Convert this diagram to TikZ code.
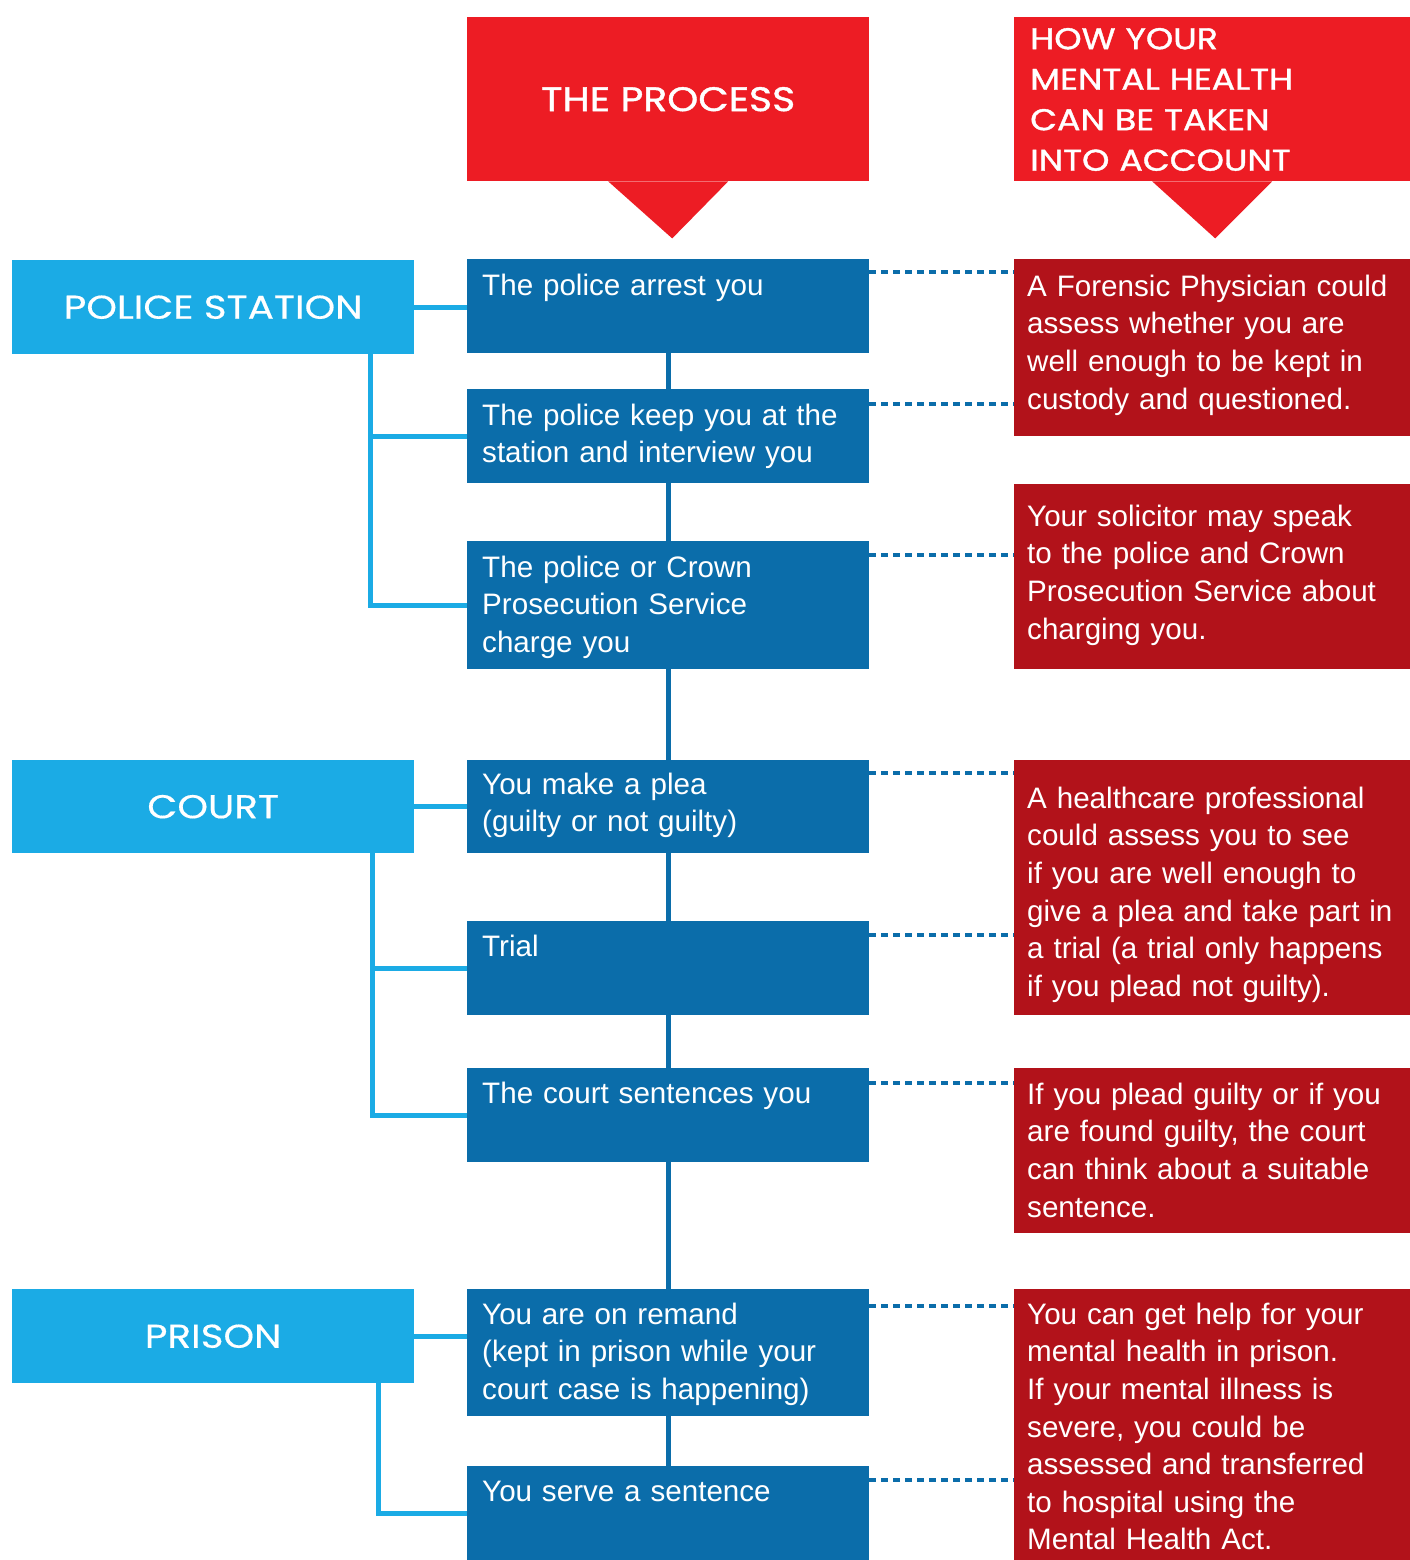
\documentclass[tikz,border=0pt]{standalone}
\usepackage{fontspec}
\setmainfont{Liberation Sans}
\newfontfamily\headfont{Poppins}[FakeStretch=1.18, FakeBold=0.4]
\newfontfamily\titlefont{Poppins}[FakeStretch=1.16, FakeBold=1.2]
\usepackage{xcolor}
\usetikzlibrary{calc, positioning}
\definecolor{headred}{HTML}{ED1C24}
\definecolor{notered}{HTML}{B2121A}
\definecolor{stepblue}{HTML}{0B6DAA}
\definecolor{stageblue}{HTML}{1BABE5}
\tikzset{
    headbox/.style={rectangle, fill=headred, text=white, anchor=north west, inner sep=0pt,
        minimum height=164pt},
    stagebox/.style={rectangle, fill=stageblue, text=white, anchor=north west, inner sep=0pt,
        minimum width=402pt, minimum height=94pt, font=\headfont\fontsize{33}{40}\selectfont},
    stepbox/.style={rectangle, fill=stepblue, text=white, anchor=north west, align=left,
        inner xsep=15pt, inner ysep=0pt, text width=372pt, text height=36pt,
        font=\fontsize{29.6}{37.6}\selectfont},
    notebox/.style={rectangle, fill=notered, text=white, anchor=north west, align=left,
        inner xsep=13pt, inner ysep=0pt, text width=370pt,
        font=\fontsize{29.6}{37.6}\selectfont},
    spine/.style={stepblue, line width=5pt},
    bracket/.style={stageblue, line width=5pt},
    dotline/.style={stepblue, line width=4pt, dash pattern=on 7pt off 5pt},
}
\begin{document}
\begin{tikzpicture}[x=1pt, y=-1pt]
    \useasboundingbox (0,0) rectangle (1410,1560);
    % column headings
    \node[headbox, minimum width=402pt, font=\titlefont\fontsize{34}{40}\selectfont]
        (proc) at (467,17) {THE PROCESS};
    \node[headbox, align=left, inner xsep=16pt, text width=364pt, text height=32pt, text depth=132pt,
        font=\titlefont\fontsize{30}{40.5}\selectfont]
        (how) at (1014,17) {HOW YOUR\\MENTAL HEALTH\\CAN BE TAKEN\\INTO ACCOUNT};
    \fill[headred] ([xshift=-60pt]proc.south) -- ([xshift=60pt]proc.south)
        -- ([xshift=4pt, yshift=-57pt]proc.south) -- cycle;
    \fill[headred] ([xshift=-60pt]how.south) -- ([xshift=60pt]how.south)
        -- ([xshift=3pt, yshift=-57pt]how.south) -- cycle;

    % stages
    \node[stagebox] (police) at (12,260) {POLICE STATION};
    \node[stagebox, minimum height=93pt] (court) at (12,760) {COURT};
    \node[stagebox] (prison) at (12,1289) {PRISON};

    % the process
    \node[stepbox, text depth=58pt] (s1) at (467,259) {The police arrest you};
    \node[stepbox, text depth=58pt] (s2) at (467,389) {The police keep you at the\\station and interview you};
    \node[stepbox, text depth=92pt] (s3) at (467,541) {The police or Crown\\Prosecution Service\\charge you};
    \node[stepbox, text height=34pt, text depth=59pt] (s4) at (467,760) {You make a plea\\(guilty or not guilty)};
    \node[stepbox, text height=35pt, text depth=59pt] (s5) at (467,921) {Trial};
    \node[stepbox, text height=35pt, text depth=59pt] (s6) at (467,1068) {The court sentences you};
    \node[stepbox, text height=35pt, text depth=92pt] (s7) at (467,1289) {You are on remand\\(kept in prison while your\\court case is happening)};
    \node[stepbox, text height=35pt, text depth=59pt] (s8) at (467,1466) {You serve a sentence};

    % mental health notes
    \node[notebox, text height=37pt, text depth=140pt] (n1) at (1014,259)
        {A Forensic Physician could\\assess whether you are\\well enough to be kept in\\custody and questioned.};
    \node[notebox, text height=42pt, text depth=143pt] (n2) at (1014,484)
        {Your solicitor may speak\\to the police and Crown\\Prosecution Service about\\charging you.};
    \node[notebox, text height=48pt, text depth=207pt] (n3) at (1014,760)
        {A healthcare professional\\could assess you to see\\if you are well enough to\\give a plea and take part in\\a trial (a trial only happens\\if you plead not guilty).};
    \node[notebox, text height=36pt, text depth=129pt] (n4) at (1014,1068)
        {If you plead guilty or if you\\are found guilty, the court\\can think about a suitable\\sentence.};
    \node[notebox, text height=35pt, text depth=236pt] (n5) at (1014,1289)
        {You can get help for your\\mental health in prison.\\If your mental illness is\\severe, you could be\\assessed and transferred\\to hospital using the\\Mental Health Act.};

    % spine
    \draw[spine] (s1.south) -- (s2.north);
    \draw[spine] (s2.south) -- (s3.north);
    \draw[spine] (s3.south) -- (s4.north);
    \draw[spine] (s4.south) -- (s5.north);
    \draw[spine] (s5.south) -- (s6.north);
    \draw[spine] (s6.south) -- (s7.north);
    \draw[spine] (s7.south) -- (s8.north);

    % brackets
    \draw[bracket] (police.east) -- (police.east -| s1.west);
    \draw[bracket] ([xshift=-44pt]police.south east) |- (s2.west);
    \draw[bracket] ([xshift=-44pt]police.south east) |- (s3.west);
    \draw[bracket] (court.east) -- (court.east -| s4.west);
    \draw[bracket] ([xshift=-42pt]court.south east) |- (s5.west);
    \draw[bracket] ([xshift=-42pt]court.south east) |- (s6.west);
    \draw[bracket] (prison.east) -- (prison.east -| s7.west);
    \draw[bracket] ([xshift=-36pt]prison.south east) |- (s8.west);

    % dotted links
    \draw[dotline] ($(s1.north east)+(0,13)$) -- ($(s1.north east -| n1.west)+(0,13)$);
    \draw[dotline] ($(s2.north east)+(0,15)$) -- ($(s2.north east -| n1.west)+(0,15)$);
    \draw[dotline] ($(s3.north east)+(0,14)$) -- ($(s3.north east -| n2.west)+(0,14)$);
    \draw[dotline] ($(s4.north east)+(0,13)$) -- ($(s4.north east -| n3.west)+(0,13)$);
    \draw[dotline] ($(s5.north east)+(0,14)$) -- ($(s5.north east -| n3.west)+(0,14)$);
    \draw[dotline] ($(s6.north east)+(0,15)$) -- ($(s6.north east -| n4.west)+(0,15)$);
    \draw[dotline] ($(s7.north east)+(0,17)$) -- ($(s7.north east -| n5.west)+(0,17)$);
    \draw[dotline] ($(s8.north east)+(0,14)$) -- ($(s8.north east -| n5.west)+(0,14)$);
\end{tikzpicture}
\end{document}
